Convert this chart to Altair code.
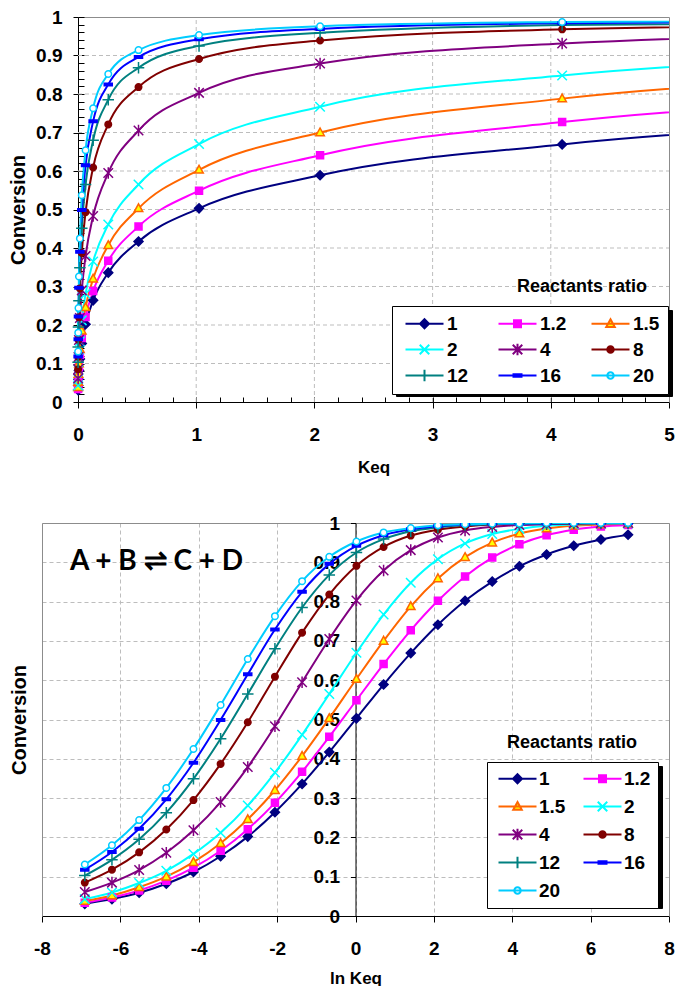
import altair as alt
import pandas as pd

# ---------------- data ----------------
ratios = ["1", "1.2", "1.5", "2", "4", "8", "12", "16", "20"]

keq = [0.001, 0.002, 0.004, 0.008, 0.016, 0.032, 0.064, 0.128, 0.256, 0.512,
       1.024, 2.048, 4.096, 8.192, 16.384, 32.768, 65.536, 131.072, 262.144,
       524.288, 1048.576]
ln_keq = [-6.908, -6.215, -5.521, -4.828, -4.135, -3.442, -2.749, -2.056, -1.363,
          -0.669, 0.024, 0.717, 1.410, 2.103, 2.796, 3.489, 4.182, 4.876, 5.569,
          6.262, 6.955]

conv_1 = [0.031, 0.043, 0.059, 0.082, 0.112, 0.152, 0.202, 0.264, 0.336, 0.417, 0.503,
          0.589, 0.669, 0.741, 0.802, 0.851, 0.890, 0.920, 0.942, 0.958, 0.970]
conv_1_2 = [0.034, 0.047, 0.065, 0.090, 0.123, 0.166, 0.221, 0.288, 0.367, 0.456, 0.549,
            0.641, 0.727, 0.802, 0.864, 0.912, 0.946, 0.969, 0.983, 0.991, 0.995]
conv_1_5 = [0.038, 0.052, 0.073, 0.100, 0.137, 0.185, 0.246, 0.320, 0.407, 0.503, 0.603,
            0.700, 0.788, 0.859, 0.913, 0.950, 0.973, 0.986, 0.993, 0.996, 0.998]
conv_2 = [0.043, 0.060, 0.084, 0.115, 0.158, 0.212, 0.281, 0.365, 0.461, 0.565, 0.670,
          0.767, 0.848, 0.908, 0.948, 0.972, 0.985, 0.993, 0.996, 0.998, 0.999]
conv_4 = [0.061, 0.085, 0.117, 0.161, 0.218, 0.290, 0.379, 0.483, 0.595, 0.705, 0.803,
          0.879, 0.931, 0.963, 0.981, 0.990, 0.995, 0.997, 0.999, 0.999, 1.000]
conv_8 = [0.085, 0.118, 0.162, 0.220, 0.295, 0.387, 0.493, 0.609, 0.721, 0.818, 0.891,
          0.939, 0.968, 0.983, 0.991, 0.996, 0.998, 0.999, 0.999, 1.000, 1.000]
conv_12 = [0.103, 0.143, 0.195, 0.263, 0.349, 0.451, 0.565, 0.680, 0.785, 0.868, 0.925,
           0.959, 0.979, 0.989, 0.995, 0.997, 0.999, 0.999, 1.000, 1.000, 1.000]
conv_16 = [0.118, 0.163, 0.222, 0.297, 0.390, 0.499, 0.615, 0.729, 0.825, 0.896, 0.942,
           0.969, 0.984, 0.992, 0.996, 0.998, 0.999, 0.999, 1.000, 1.000, 1.000]
conv_20 = [0.131, 0.180, 0.244, 0.326, 0.425, 0.537, 0.654, 0.763, 0.852, 0.914, 0.953,
           0.976, 0.987, 0.994, 0.997, 0.998, 0.999, 1.000, 1.000, 1.000, 1.000]
conv_series = [conv_1, conv_1_2, conv_1_5, conv_2, conv_4, conv_8, conv_12, conv_16, conv_20]

y_ticks = [0, 0.1, 0.2, 0.3, 0.4, 0.5, 0.6, 0.7, 0.8, 0.9, 1]
keq_ticks = [0, 1, 2, 3, 4, 5]
lnk_ticks = [-8, -6, -4, -2, 0, 2, 4, 6, 8]
grid_y = [0.1, 0.2, 0.3, 0.4, 0.5, 0.6, 0.7, 0.8, 0.9]
grid_keq = [1, 2, 3, 4]

legend_title = "Reactants ratio"
equation = "A + B \u21cc C + D"

# ---------------- styles ----------------
line_colors = ["#000080", "#FF00FF", "#FF6600", "#00FFFF", "#800080",
               "#800000", "#008080", "#0000FF", "#00CCFF"]
fill_colors = ["#000080", "#FF00FF", "#FFFF00", "#00FFFF", "#800080",
               "#800000", "#008080", "#0000FF", "#FFFFFF"]
marker_paths = [
    "M0,-0.9L0.9,0L0,0.9L-0.9,0Z",                                  # diamond
    "M-0.7,-0.7L0.7,-0.7L0.7,0.7L-0.7,0.7Z",                        # square
    "M0,-0.9L0.85,0.65L-0.85,0.65Z",                                # triangle
    "M-0.95,-0.95L0.95,0.95M-0.95,0.95L0.95,-0.95",                 # x
    "M-0.95,-0.95L0.95,0.95M-0.95,0.95L0.95,-0.95M0,-1.15L0,1.15",  # star
    "M0.65,0A0.65,0.65,0,1,1,-0.65,0A0.65,0.65,0,1,1,0.65,0Z",      # dot
    "M-1.15,0L1.15,0M0,-1.15L0,1.15",                               # plus
    "M-0.8,-0.25L0.8,-0.25L0.8,0.25L-0.8,0.25Z",                    # dash
    "M0.65,0A0.65,0.65,0,1,1,-0.65,0A0.65,0.65,0,1,1,0.65,0Z",      # open circle
]
legend_paths = ["M-3.8,0L3.8,0" + p for p in marker_paths]

FONT = "Liberation Sans"
GRID = "#BDBDBD"
FRAME = "#8C8C8C"
DASH = [4, 3]
LAB = 19

rows = []
for r, conv in zip(ratios, conv_series):
    for k, lk, c in zip(keq, ln_keq, conv):
        rows.append({"ratio": r, "keq": k, "lnk": lk, "conv": c})
df = pd.DataFrame(rows)

stroke_sc = alt.Scale(domain=ratios, range=line_colors)
fill_sc = alt.Scale(domain=ratios, range=fill_colors)
shape_sc = alt.Scale(domain=ratios, range=marker_paths)
legshape_sc = alt.Scale(domain=ratios, range=legend_paths)
y_sc = alt.Scale(domain=[0, 1], nice=False, zero=False)


def make_legend(x, y, cols, pad, colpad, rowpad, symoff, laboff, shadow=False):
    kw = dict(orient="none", legendX=x, legendY=y, columns=cols, direction="horizontal",
              title=None, padding=pad, columnPadding=colpad, rowPadding=rowpad, gridAlign="all",
              symbolSize=100, symbolStrokeWidth=2, symbolOffset=symoff, labelOffset=laboff,
              labelFont=FONT, labelFontSize=LAB, labelFontWeight="bold", labelColor="black",
              labelLimit=200, cornerRadius=0)
    if shadow:
        kw.update(fillColor="black", strokeColor="black", labelOpacity=0, symbolOpacity=0)
    else:
        kw.update(fillColor="white", strokeColor="black")
    return alt.Legend(**kw)


def legend_layer(leg, y_axis=None):
    enc = dict(
        stroke=alt.Stroke("ratio:N", scale=stroke_sc, legend=leg),
        fill=alt.Fill("ratio:N", scale=fill_sc, legend=leg),
        shape=alt.Shape("ratio:N", scale=legshape_sc, legend=leg),
    )
    if y_axis is not None:
        enc["y"] = alt.Y("conv:Q", scale=y_sc, axis=y_axis)
    return alt.Chart(df).transform_filter("false").mark_point(
        filled=True, size=100, opacity=1, strokeWidth=2).encode(**enc)


def text_layer(txt, x, y, size, font=FONT, align="center"):
    return alt.Chart(pd.DataFrame({"t": [txt]})).mark_text(
        font=font, fontSize=size, fontWeight="bold", align=align, baseline="middle",
        color="black").encode(text="t:N", x=alt.value(x), y=alt.value(y))


def bare_axis(orient, **kw):
    return alt.Axis(orient=orient, ticks=False, labels=False, title=None, grid=False,
                    minExtent=0, maxExtent=0, **kw)


# ---------------- top chart: Conversion vs Keq ----------------
W1, H1 = 627, 385
XOFF1 = 36
x_top = alt.Scale(domain=[0, 5], range=[XOFF1, W1], nice=False, zero=False)

ax_top_x = alt.Axis(orient="bottom", values=keq_ticks, format="d", tickSize=6, labelPadding=17,
                    labelFlush=False, title="Keq", titlePadding=15, titleFontSize=17, grid=False)
ax_top_y = alt.Axis(orient="left", offset=-XOFF1, values=y_ticks, format=".1~f", tickSize=5,
                    labelPadding=11, title="Conversion", titlePadding=7, grid=False)
ax_top_xminor = alt.Axis(orient="bottom", offset=-5, values=[round(i * 0.2, 1) for i in range(26)],
                         tickSize=5, domain=False, labels=False, title=None, grid=False,
                         minExtent=0, maxExtent=0)
ax_top_yminor = alt.Axis(orient="left", offset=-(XOFF1 + 6),
                         values=[round(i * 0.02, 2) for i in range(51)],
                         tickSize=6, domain=False, labels=False, title=None, grid=False,
                         minExtent=0, maxExtent=0)
ax_top_fx = bare_axis("top", domainColor=FRAME)
ax_top_fy = bare_axis("right", domainColor=FRAME)

hgrid_df = pd.DataFrame({"gy": grid_y, "x0": [0] * len(grid_y), "x1": [5] * len(grid_y)})
vgrid_df = pd.DataFrame({"gx": grid_keq, "y0": [0] * len(grid_keq), "y1": [1] * len(grid_keq)})

hgrid = alt.Chart(hgrid_df).mark_rule(color=GRID, strokeDash=DASH, strokeWidth=1).encode(
    x=alt.X("x0:Q", scale=x_top, axis=ax_top_x), x2=alt.X2("x1"),
    y=alt.Y("gy:Q", scale=y_sc, axis=ax_top_y))
vgrid = alt.Chart(vgrid_df).mark_rule(color=GRID, strokeDash=DASH, strokeWidth=1).encode(
    x=alt.X("gx:Q", scale=x_top, axis=ax_top_xminor),
    y=alt.Y("y0:Q", scale=y_sc, axis=ax_top_yminor), y2=alt.Y2("y1"))

lines_top = alt.Chart(df).mark_line(interpolate="monotone", strokeWidth=2, clip=True).encode(
    x=alt.X("keq:Q", scale=x_top, axis=ax_top_fx),
    y=alt.Y("conv:Q", scale=y_sc, axis=ax_top_fy),
    stroke=alt.Stroke("ratio:N", scale=stroke_sc, legend=None))
pts_top = alt.Chart(df).mark_point(filled=True, size=100, opacity=1, strokeWidth=1.5, clip=True).encode(
    x=alt.X("keq:Q", scale=x_top, axis=None),
    y=alt.Y("conv:Q", scale=y_sc, axis=None),
    stroke=alt.Stroke("ratio:N", scale=stroke_sc, legend=None),
    fill=alt.Fill("ratio:N", scale=fill_sc, legend=None),
    shape=alt.Shape("ratio:N", scale=shape_sc, legend=None))

shadow_top = legend_layer(make_legend(354, 293, 3, 8, 19, 5, 15, 13, shadow=True))
legend_top = legend_layer(make_legend(350, 289, 3, 8, 19, 5, 15, 13))
ltitle_top = text_layer(legend_title, 540, 270, 18)

top = alt.layer(hgrid, vgrid, lines_top, pts_top, shadow_top, legend_top, ltitle_top).resolve_scale(
    stroke="independent", fill="independent", shape="independent").resolve_axis(
    x="independent", y="independent").properties(width=W1, height=H1)

# ---------------- bottom chart: Conversion vs ln Keq ----------------
W2, H2 = 627, 393
x_bot = alt.Scale(domain=[-8, 8], nice=False, zero=False)

ax_bot_x = alt.Axis(orient="bottom", values=lnk_ticks, labelExpr="toString(datum.value)", tickSize=6,
                    labelPadding=17, labelFlush=False, title="ln Keq", titlePadding=12, titleFontSize=17,
                    grid=True, gridColor=GRID, gridDash=DASH, gridWidth=1)
ax_bot_y = alt.Axis(orient="left", offset=-W2 / 2, values=y_ticks, format=".1~f", tickSize=5,
                    labelPadding=11, title=None, grid=False)
ax_bot_fx = bare_axis("top", domainColor=FRAME)
ax_bot_ty = alt.Axis(orient="left", domainColor=FRAME, ticks=False, labels=False, title="Conversion",
                     titlePadding=13, values=grid_y, grid=True, gridColor=GRID, gridDash=DASH,
                     gridWidth=1, minExtent=0, maxExtent=0)
ax_bot_fy = bare_axis("right", domainColor=FRAME)

lines_bot = alt.Chart(df).mark_line(interpolate="monotone", strokeWidth=2, clip=True).encode(
    x=alt.X("lnk:Q", scale=x_bot, axis=ax_bot_x),
    y=alt.Y("conv:Q", scale=y_sc, axis=ax_bot_y),
    stroke=alt.Stroke("ratio:N", scale=stroke_sc, legend=None))
pts_bot = alt.Chart(df).mark_point(filled=True, size=100, opacity=1, strokeWidth=1.5, clip=True).encode(
    x=alt.X("lnk:Q", scale=x_bot, axis=ax_bot_fx),
    y=alt.Y("conv:Q", scale=y_sc, axis=ax_bot_ty),
    stroke=alt.Stroke("ratio:N", scale=stroke_sc, legend=None),
    fill=alt.Fill("ratio:N", scale=fill_sc, legend=None),
    shape=alt.Shape("ratio:N", scale=shape_sc, legend=None))

shadow_bot = legend_layer(make_legend(449, 243, 2, 7, 13, 7, 14, 12, shadow=True), y_axis=ax_bot_fy)
legend_bot = legend_layer(make_legend(445, 239, 2, 7, 13, 7, 14, 12))
ltitle_bot = text_layer(legend_title, 530, 220, 18)
eq_text = text_layer(equation, 28, 39, 28, font="Lato", align="left")

bottom = alt.layer(lines_bot, pts_bot, shadow_bot, legend_bot, ltitle_bot, eq_text).resolve_scale(
    stroke="independent", fill="independent", shape="independent").resolve_axis(
    x="independent", y="independent").properties(width=W2, height=H2)

chart = alt.vconcat(top, bottom, spacing=39).resolve_scale(
    stroke="independent", fill="independent", shape="independent").properties(
    padding={"left": 0, "top": 0, "right": 0, "bottom": 0}).configure_view(
    strokeWidth=0).configure_axis(
    labelFont=FONT, labelFontSize=LAB, labelFontWeight="bold", labelColor="black",
    titleFont=FONT, titleFontSize=20, titleFontWeight="bold", titleColor="black",
    domainColor="black", tickColor="black", domainWidth=1, tickWidth=1)

chart.save("out.html", embed_options={"renderer": "svg", "actions": False})
